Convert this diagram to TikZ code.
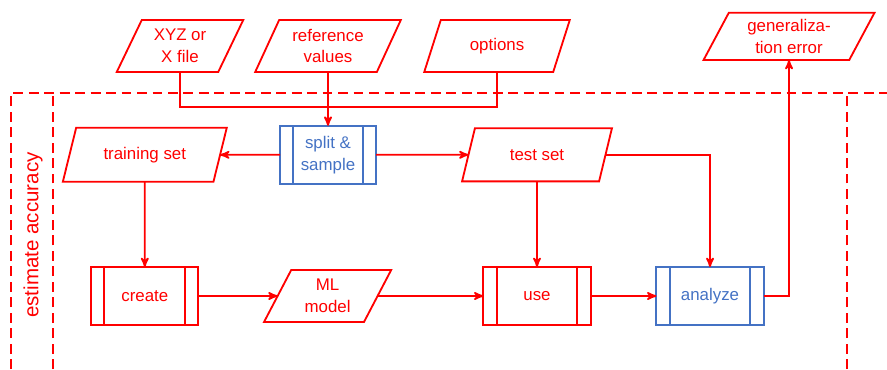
\documentclass[tikz,border=0pt]{standalone}
\usepackage{fontspec}
\setmainfont{Liberation Sans}
\usetikzlibrary{positioning}
\usetikzlibrary{shapes,arrows,shapes.geometric,calc}
\usepackage{color}
\definecolor{flowred}{HTML}{FF0000}
\definecolor{flowblue}{HTML}{4472C4}
\tikzset{
    %Define standard arrow tip
    >=stealth',
    % Define arrow style
    pil/.style={
           ->,
           color=flowred,
           line width=1.3pt,}
}
\newcommand{\barwidth}{0.33cm}

\begin{document}
\begin{tikzpicture}[node distance=0 cm,outer sep = 0pt, font=\fontsize{12}{15.6}\selectfont]
\tikzstyle{databox}=[draw=flowred, text=flowred, trapezium, trapezium left angle=63, trapezium right angle=117,
    trapezium stretches, line width=1.3pt, inner sep=0pt, minimum height=1.3cm, align=center]
%
\tikzstyle{procbox}=[draw=flowred, text=flowred, rectangle, line width=1.3pt,
    minimum height=1.45cm, minimum width=2.68cm, align=center,
    path picture={\draw[line width=1.3pt] ([xshift=\barwidth]path picture bounding box.north west) -- ([xshift=\barwidth]path picture bounding box.south west)
                                          ([xshift=-\barwidth]path picture bounding box.north east) -- ([xshift=-\barwidth]path picture bounding box.south east);}]
%
\tikzstyle{bluebox}=[procbox, draw=flowblue, text=flowblue]
%
\tikzstyle{frame}=[draw=flowred, line width=1.3pt, dash pattern=on 7pt off 4pt]

\useasboundingbox (0,0) rectangle (22.175,-9.225);

\node[databox, minimum width=3.18cm] (xyz) at (4.5cm,-1.15cm) {XYZ or\\ X file};
\node[databox, minimum width=3.65cm] (ref) at (8.2cm,-1.15cm) {reference\\ values};
\node[databox, minimum width=3.65cm] (opt) at (12.425cm,-1.15cm) {options};
\node[databox, minimum width=4.3cm, minimum height=1.18cm] (gen) at (19.725cm,-0.91cm) {generaliza-\\ tion error};

\node[bluebox, minimum width=2.4cm] (split) at (8.2cm,-3.87cm) {split \&\\ sample};
\node[databox, minimum width=4.12cm, minimum height=1.35cm] (train) at (3.62cm,-3.87cm) {training set};
\node[databox, minimum width=3.75cm, minimum height=1.33cm] (test) at (13.425cm,-3.87cm) {test set};

\node[procbox] (create) at (3.62cm,-7.4cm) {create};
\node[databox, minimum width=3.18cm] (ml) at (8.19cm,-7.4cm) {ML\\ model};
\node[procbox] (use) at (13.425cm,-7.4cm) {use};
\node[bluebox] (analyze) at (17.75cm,-7.4cm) {analyze};

\coordinate (bus) at (8.2cm,-2.675cm);

\draw[pil,-] (xyz) |- (bus) -| (opt);
\path[pil] (ref) edge (split);
\path[pil] (split) edge (train);
\path[pil] (split) edge (test);
\path[pil] (train) edge (create);
\path[pil] (test) edge (use);
\draw[pil] (test) -| (analyze);
\path[pil] (create) edge (ml);
\path[pil] (ml) edge (use);
\path[pil] (use) edge (analyze);
\draw[pil] (analyze) -| (gen);

% dashed frame of the accuracy loop
\draw[frame] (0.275cm,-9.225cm) -- (0.275cm,-2.325cm) -- (22.175cm,-2.325cm);
\draw[frame] (1.325cm,-9.225cm) -- (1.325cm,-2.325cm);
\draw[frame] (21.175cm,-9.225cm) -- (21.175cm,-2.325cm);

\node[text=flowred, rotate=90, font=\fontsize{14.6}{17}\selectfont] (loop) at (0.825cm,-5.875cm) {estimate accuracy};

\end{tikzpicture}
\end{document}
